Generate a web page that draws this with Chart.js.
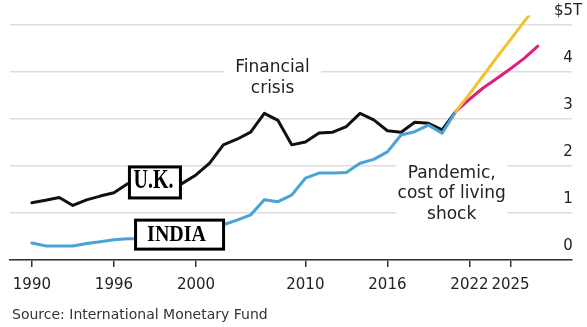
<!DOCTYPE html>
<html>
<head>
<meta charset="utf-8">
<script src="https://cdn.jsdelivr.net/npm/chart.js@4.4.1/dist/chart.umd.min.js"></script>
<style>
html, body { margin: 0; padding: 0; background: #fff; }
#wrap { position: relative; width: 587px; height: 327px; overflow: hidden; }
#source { position: absolute; left: 12px; top: 306px; font: 14px "DejaVu Sans"; line-height: 16px; color: #333; white-space: nowrap; }
</style>
</head>
<body>
<div id="wrap">
  <canvas id="gdp" width="587" height="327"></canvas>
  <div id="source">Source: International Monetary Fund</div>
</div>
<script>
// GDP, trillions of US dollars
var years = [1990, 1991, 1992, 1993, 1994, 1995, 1996, 1997, 1998, 1999,
  2000, 2001, 2002, 2003, 2004, 2005, 2006, 2007, 2008, 2009,
  2010, 2011, 2012, 2013, 2014, 2015, 2016, 2017, 2018, 2019, 2020, 2021];
var ukGdp = [1.22, 1.27, 1.33, 1.16, 1.28, 1.36, 1.43, 1.62, 1.66, 1.70,
  1.67, 1.63, 1.81, 2.06, 2.45, 2.57, 2.72, 3.12, 2.97, 2.45,
  2.51, 2.70, 2.72, 2.84, 3.12, 2.98, 2.75, 2.72, 2.93, 2.91, 2.77, 3.16];
var indiaGdp = [0.36, 0.30, 0.30, 0.30, 0.35, 0.39, 0.43, 0.45, 0.45, 0.47,
  0.48, 0.50, 0.52, 0.62, 0.75, 0.85, 0.96, 1.28, 1.24, 1.38,
  1.74, 1.85, 1.85, 1.86, 2.06, 2.14, 2.30, 2.66, 2.73, 2.87, 2.70, 3.16];

// IMF projections
var forecastYears = [2021, 2022, 2023, 2024, 2025, 2026, 2027];
var ukForecast = [3.16, 3.42, 3.66, 3.86, 4.07, 4.29, 4.55];
var indiaForecast = [3.16, 3.53, 3.92, 4.31, 4.69, 5.07, 5.45];

var xTickYears = [1990, 1996, 2002, 2010, 2016, 2022, 2025];
var xTickLabels = ['1990', '1996', '2000', '2010', '2016', '2022', '2025'];
var yTickValues = [0, 1, 2, 3, 4, 5];
var yTickLabels = ['0', '1', '2', '3', '4', '$5T'];

function points(xs, ys) {
  return xs.map(function (x, i) { return { x: x, y: ys[i] }; });
}

Chart.defaults.font.family = '"DejaVu Sans"';

// white-backed notes and boxed country labels
var notesPlugin = {
  id: 'notes',
  afterDatasetsDraw: function (chart) {
    var ctx = chart.ctx;
    var x = chart.scales.x, y = chart.scales.y;
    ctx.save();

    // plain text notes
    var notes = [
      { year: 2007.6, value: 4, lines: ['Financial', 'crisis'], w: 97, top: -17, h: 40 },
      { year: 2020.7, value: 1.745, lines: ['Pandemic,', 'cost of living', 'shock'], w: 111, top: -18, h: 64 }
    ];
    ctx.font = '17px "DejaVu Sans"';
    ctx.textAlign = 'center';
    ctx.textBaseline = 'alphabetic';
    notes.forEach(function (n) {
      var cx = x.getPixelForValue(n.year), by = y.getPixelForValue(n.value);
      ctx.fillStyle = '#fff';
      ctx.fillRect(cx - n.w / 2, by + n.top, n.w, n.h);
      ctx.fillStyle = '#222';
      n.lines.forEach(function (t, i) { ctx.fillText(t, cx, by + i * 20.5); });
    });

    // boxed labels
    var boxes = [
      { year: 1999.0, value: 1.65, text: 'U.K.', w: 51, h: 31, dx: -1.5, base: 6, sy: 1.36 },
      { year: 2000.8, value: 0.54, text: 'INDIA', w: 88, h: 29, dx: -3, base: 6.5, sy: 1.19 }
    ];
    boxes.forEach(function (b) {
      var cx = x.getPixelForValue(b.year), cy = y.getPixelForValue(b.value);
      ctx.fillStyle = '#fff';
      ctx.fillRect(cx - b.w / 2, cy - b.h / 2, b.w, b.h);
      ctx.lineWidth = 3;
      ctx.strokeStyle = '#000';
      ctx.strokeRect(cx - b.w / 2, cy - b.h / 2, b.w, b.h);
      ctx.save();
      ctx.translate(cx + b.dx, cy + b.base);
      ctx.scale(1, b.sy);
      ctx.fillStyle = '#000';
      ctx.font = 'bold 20px "Liberation Serif"';
      ctx.fillText(b.text, 0, 0);
      ctx.restore();
    });
    ctx.restore();
  }
};

var ctx_gdp = document.getElementById('gdp').getContext('2d');
var gdpChart = new Chart(ctx_gdp, {
  type: 'line',
  data: {
    datasets: [{
      label: 'India forecast',
      data: points(forecastYears, indiaForecast),
      borderColor: '#f2c12e',
      borderWidth: 3
    }, {
      label: 'U.K. forecast',
      data: points(forecastYears, ukForecast),
      borderColor: '#e01e7c',
      borderWidth: 3
    }, {
      label: 'India',
      data: points(years, indiaGdp),
      borderColor: '#4aa3d6',
      borderWidth: 3
    }, {
      label: 'U.K.',
      data: points(years, ukGdp),
      borderColor: '#111111',
      borderWidth: 3
    }]
  },
  options: {
    responsive: false,
    animation: false,
    elements: { point: { radius: 0 }, line: { tension: 0, borderJoinStyle: 'round', borderCapStyle: 'round' } },
    layout: { padding: { left: 10, top: 15.6, right: 0, bottom: 0 } },
    plugins: { legend: { display: false }, tooltip: { enabled: false } },
    scales: {
      x: {
        type: 'linear',
        min: 1988.4,
        max: 2029.5,
        afterBuildTicks: function (s) { s.ticks = xTickYears.map(function (v) { return { value: v }; }); },
        afterFit: function (s) { s.height = 67; },
        grid: { drawOnChartArea: false, drawTicks: true, tickLength: 7, color: '#333', lineWidth: 1.5 },
        border: { display: true, color: '#333', width: 1.5 },
        ticks: {
          autoSkip: false, maxRotation: 0, padding: 9, color: '#222',
          font: { size: 15 },
          callback: function (v, i) { return xTickLabels[i]; }
        }
      },
      y: {
        position: 'right',
        min: 0,
        max: 5.2,
        afterBuildTicks: function (s) { s.ticks = yTickValues.map(function (v) { return { value: v }; }); },
        afterFit: function (s) {
          s.width = 15;
          // labels hang over the plot edge, so don't clip them to the thin axis box
          s._computeLabelArea = function () { return undefined; };
        },
        grid: { color: '#dddddd', lineWidth: 1.5, drawTicks: false },
        border: { display: false },
        ticks: {
          crossAlign: 'center', padding: -18, labelOffset: -14, color: '#222',
          font: { size: 15 },
          callback: function (v, i) { return yTickLabels[i]; }
        }
      }
    }
  },
  plugins: [notesPlugin]
});
</script>
</body>
</html>
